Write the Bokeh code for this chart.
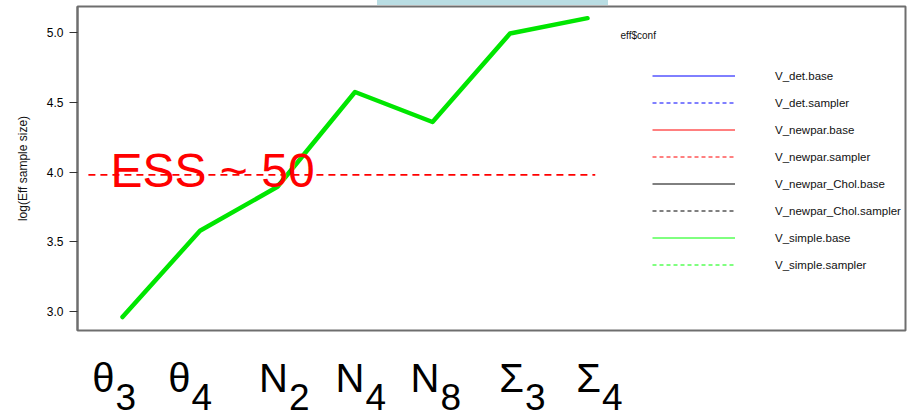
from bokeh.plotting import figure
from bokeh.layouts import column
from bokeh.models import (Range1d, FixedTicker, PrintfTickFormatter, Legend, LegendItem,
                          Label, ColumnDataSource, Div)
from bokeh.core.properties import value
from bokeh.embed import file_html
from bokeh.resources import INLINE

# ---- data -------------------------------------------------------------
positions = [1, 2, 3, 4, 5, 6, 7]
param_symbols = ["θ", "θ", "N", "N", "N", "Σ", "Σ"]
param_subscripts = ["3", "4", "2", "4", "8", "3", "4"]

# log(effective sample size) per parameter
v_simple_base = [2.96, 3.58, 3.895, 4.575, 4.36, 4.995, 5.105]

# configurations listed in the key (only V_simple.base has values here)
series_names = ["V_det.base", "V_det.sampler", "V_newpar.base", "V_newpar.sampler",
                "V_newpar_Chol.base", "V_newpar_Chol.sampler",
                "V_simple.base", "V_simple.sampler"]

ess_threshold = 3.98          # log(ESS) reference level
ess_span = [0.56, 7.10]       # extent of the reference line
y_ticks = [3.0, 3.5, 4.0, 4.5, 5.0]

# ---- styling ----------------------------------------------------------
FONT = "Liberation Sans"
NAN = float("nan")
series_colors = ["#0000ff", "#0000ff", "#ff0000", "#ff0000",
                 "#000000", "#000000", "#00ff00", "#00ff00"]
series_dashes = ["solid", "4 3", "solid", "4 3", "solid", "4 3", "solid", "4 3"]
label_nudge_px = [-8, -9.5, 10.5, 9.5, 7, 14, 13.5]

x_range = Range1d(0.4194, 11.103)

# thin strip above the panel
strip = Div(text='<div style="margin-left:377px;width:231px;height:5px;'
                 'background:#b9dde3"></div>',
            width=918, height=5, margin=0,
            styles={"overflow": "hidden", "line-height": "0"})

p = figure(width=918, height=331, x_range=x_range, y_range=Range1d(2.8637, 5.1887),
           output_backend="svg", toolbar_location=None, x_axis_location=None,
           min_border_left=77, min_border_right=13, min_border_top=1, min_border_bottom=6,
           background_fill_color="white", border_fill_color="white")
p.grid.visible = False
p.outline_line_color = "#6e6e6e"
p.outline_line_width = 2

ax = p.yaxis[0]
ax.ticker = FixedTicker(ticks=y_ticks)
ax.formatter = PrintfTickFormatter(format="%.1f")
ax.minor_tick_line_color = None
ax.major_tick_out = 8
ax.major_tick_in = 0
ax.major_tick_line_color = "#333333"
ax.axis_line_color = "#6e6e6e"
ax.axis_line_width = 2
ax.major_label_standoff = 6
ax.major_label_text_font = FONT
ax.major_label_text_font_size = "12px"
ax.major_label_text_color = "#000000"
ax.axis_label = "log(Eff sample size)"
ax.axis_label_text_font = FONT
ax.axis_label_text_font_size = "12px"
ax.axis_label_text_font_style = "normal"
ax.axis_label_text_color = "#111111"
ax.axis_label_standoff = 14

# reference level
p.line(ess_span, [ess_threshold, ess_threshold], line_color="#ff0000",
       line_width=1.8, line_dash="7 5")

# V_simple.base
p.line(positions, v_simple_base, line_color="#00e600", line_width=4.5,
       line_join="round", line_cap="round")

p.add_layout(Label(x=0.845, y=4.012, text="ESS ~ 50", text_color="#ff0000",
                   text_font=FONT, text_font_size="48px", text_baseline="middle"))

# key
items = []
for name, color, dash in zip(series_names, series_colors, series_dashes):
    r = p.line([NAN], [NAN], line_color=color, line_width=1, line_dash=dash)
    items.append(LegendItem(label=name, renderers=[r]))
legend = Legend(items=items, location=(575, 55), orientation="vertical",
                glyph_width=83, glyph_height=21, label_height=21, spacing=6,
                label_standoff=40, padding=0, margin=0,
                label_text_font=FONT, label_text_font_size="11.5px",
                label_text_color="#111111",
                border_line_color=None, background_fill_alpha=0.0)
p.add_layout(legend)
p.add_layout(Label(x=7.426, y=4.98, text="eff$conf", text_font=FONT,
                   text_font_size="10px", text_baseline="middle", text_color="#111111"))

# parameter labels under the panel
q = figure(width=918, height=80, x_range=x_range, y_range=Range1d(-80, 0),
           output_backend="svg", toolbar_location=None,
           x_axis_location=None, y_axis_location=None,
           min_border_left=77, min_border_right=13, min_border_top=0, min_border_bottom=0,
           outline_line_color=None, background_fill_color="white", border_fill_color="white")
q.grid.visible = False
src = ColumnDataSource(dict(x=positions, sym=param_symbols, sub=param_subscripts,
                            nudge=label_nudge_px,
                            nudge_sub=[n + 1 for n in label_nudge_px]))
q.text(x="x", y=-41.5, text="sym", x_offset="nudge", source=src,
       text_align="right", text_baseline="middle",
       text_font=value(FONT), text_font_size="40px", text_color="#000000")
q.text(x="x", y=-60, text="sub", x_offset="nudge_sub", source=src,
       text_align="left", text_baseline="middle",
       text_font=value(FONT), text_font_size="37px", text_color="#000000")

layout = column(strip, p, q, spacing=0)
open("out.html", "w").write(file_html(layout, INLINE))
